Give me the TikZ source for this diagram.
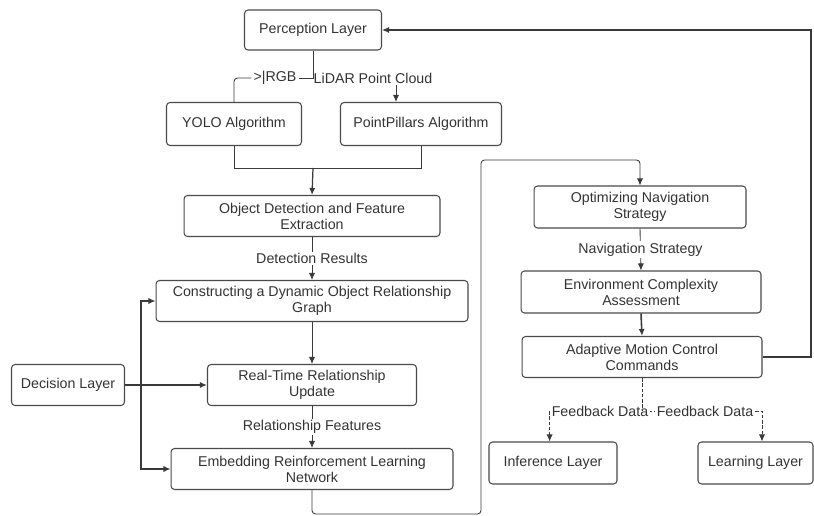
\documentclass[tikz,border=0pt]{standalone}
\usepackage{fontspec}
\setmainfont{Liberation Sans}
\usetikzlibrary{arrows.meta}
\definecolor{boxline}{HTML}{4A4A4A}
\definecolor{txt}{HTML}{333333}
\definecolor{wire}{HTML}{3A3A3A}

\begin{document}
\begin{tikzpicture}[x=0.02cm,y=-0.02cm,
  box/.style={draw=boxline,line width=0.6pt,rounded corners=2pt,align=center,text=txt,
    font=\fontsize{8.1}{9.2}\selectfont,minimum height=0.82cm,inner sep=1pt},
  lbl/.style={fill=white,text=txt,font=\fontsize{8.1}{9.2}\selectfont,inner sep=1pt},
  wire/.style={draw=wire,line width=0.5pt},
  >={Latex[length=4pt,width=3.5pt]}]
\useasboundingbox (0,0) rectangle (814,516);
% left column
\node[box,minimum width=2.74cm,minimum height=0.8cm] (perc) at (313,30) {Perception Layer};
\node[box,minimum width=2.7cm,minimum height=0.86cm] (yolo) at (234,124) {YOLO Algorithm};
\node[box,minimum width=3.22cm,minimum height=0.86cm] (pp) at (421,124) {PointPillars Algorithm};
\node[box,minimum width=5.12cm] (objdet) at (312,216) {Object Detection and Feature\\Extraction};
\node[box,minimum width=6.24cm] (graph) at (312,301) {Constructing a Dynamic Object Relationship\\Graph};
\node[box,minimum width=4.18cm] (rtu) at (312,385) {Real-Time Relationship\\Update};
\node[box,minimum width=5.64cm] (emb) at (312,469) {Embedding Reinforcement Learning\\Network};
\node[box,minimum width=2.26cm] (dec) at (68,385) {Decision Layer};
% right column
\node[box,minimum width=4.24cm,minimum height=0.84cm] (opt) at (640,207) {Optimizing Navigation\\Strategy};
\node[box,minimum width=4.8cm,minimum height=0.84cm] (env) at (641,292) {Environment Complexity\\Assessment};
\node[box,minimum width=4.8cm] (amc) at (642,357) {Adaptive Motion Control\\Commands};
\node[box,minimum width=2.56cm,minimum height=0.84cm] (inf) at (553,463) {Inference Layer};
\node[box,minimum width=2.3cm,minimum height=0.84cm] (learn) at (755.5,463) {Learning Layer};

% sensor split
\node[lbl] (rgb) at (275,78) {>|RGB};
\node[lbl] (lidar) at (373,78) {LiDAR Point Cloud};
\coordinate (split) at (313,78);
\draw[wire] (perc.south) -- (split) -- (rgb.east);
\draw[wire,rounded corners=2pt] (rgb.west) -| (yolo.north);
\draw[wire,->] ([xshift=0.46cm]lidar.south) -- ([xshift=0.46cm]lidar.south |- pp.north);

% merge into detection
\coordinate (merge) at (313,168);
\draw[wire,line width=0.55pt] (yolo.south) |- (merge);
\draw[wire,line width=0.55pt] (pp.south) |- (merge);
\draw[wire,line width=0.7pt,->] (merge) -- (objdet.north);

\draw[wire,->] (objdet.south) -- node[lbl] {Detection Results} (graph.north);
\draw[wire,->] (graph.south) -- (rtu.north);
\draw[wire,->] (rtu.south) -- node[lbl] {Relationship Features} (emb.north);

% decision layer
\coordinate (dbr) at (141,385);
\draw[wire,line width=0.8pt,->] (dec.east) -- (rtu.west);
\draw[wire,line width=0.7pt,->] (dbr) |- (graph.west);
\draw[wire,line width=0.7pt,->] (dbr) |- (emb.west);

% over to the right column
\coordinate (lowturn) at (481,514);
\coordinate (upturn) at (481,160);
\draw[wire,rounded corners=2pt,->] (emb.south) |- (lowturn) -- (upturn) -| (opt.north);

\draw[wire,->] (opt.south) -- node[lbl] {Navigation Strategy} (env.north);
\draw[wire,line width=0.9pt,->] (env.south) -- (amc.north);

% back to perception
\coordinate (topright) at (811,30);
\draw[wire,line width=0.7pt,->] (amc.east) -| (topright) -- (perc.east);

% feedback
\node[lbl] (fb1) at (600,411) {Feedback Data};
\node[lbl] (fb2) at (705,411) {Feedback Data};
\draw[wire,dash pattern=on 2pt off 1pt] (amc.south) -- (fb1.east -| amc.south);
\draw[wire,dash pattern=on 1pt off 1pt] (fb1.east) -- (fb2.west);
\draw[wire,dash pattern=on 2pt off 1pt,->] (fb1.west) -- (fb1.west |- inf.north);
\draw[wire,dash pattern=on 2pt off 1pt,->] (fb2.east) -| ([xshift=0.13cm]learn.north);
\end{tikzpicture}
\end{document}
